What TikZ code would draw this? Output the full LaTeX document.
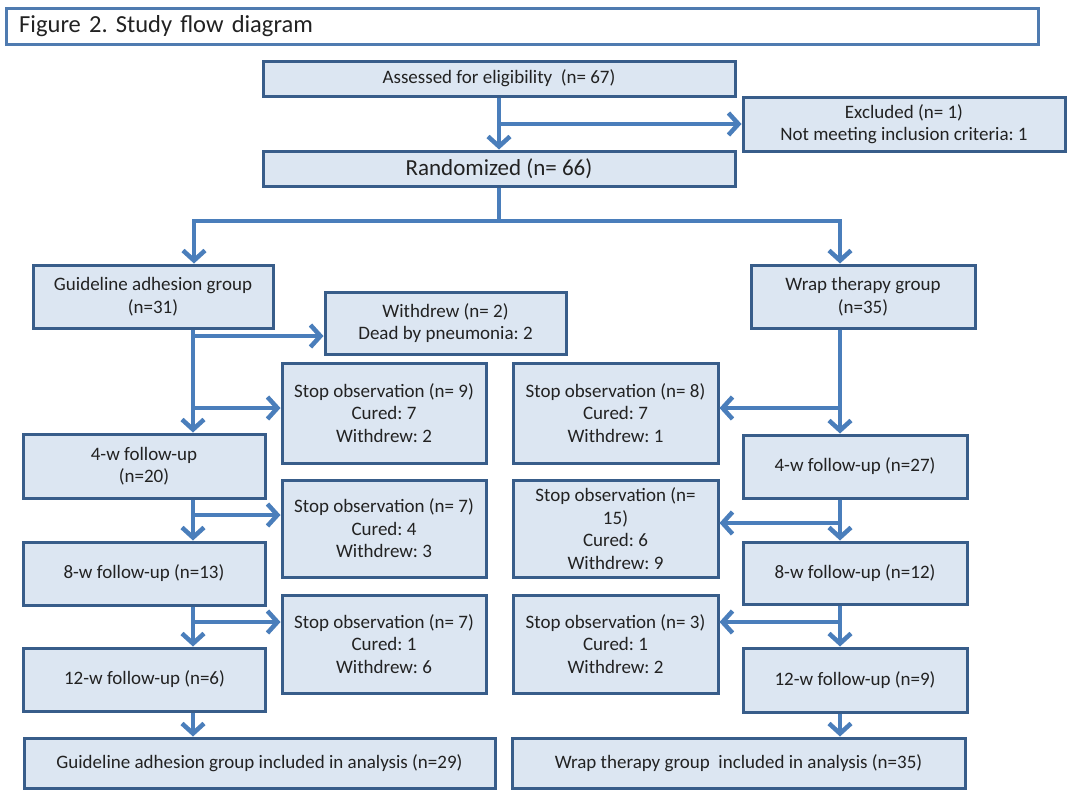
\documentclass[tikz,border=0pt]{standalone}
\usepackage{fontspec}
\setmainfont{Carlito}
\usetikzlibrary{arrows.meta,calc}
\definecolor{boxfill}{HTML}{DCE6F2}
\definecolor{boxline}{HTML}{385D8A}
\definecolor{arrcol}{HTML}{4A7EBB}
\definecolor{txt}{HTML}{222222}
\definecolor{titleline}{HTML}{4F7BB0}
\frenchspacing
\begin{document}
\begin{tikzpicture}[x=1pt,y=-1pt,
 fbox/.style={draw=boxline, fill=boxfill, line width=3pt, text=txt, align=center, inner sep=2pt, font=\fontsize{19}{22.5}\selectfont},
 conn/.style={draw=arrcol, line width=4.5pt},
 arr/.style={conn, -{Straight Barb[length=10pt,width=22pt]}},
]
\fill[white] (0,0) rectangle (1069,790);
\useasboundingbox (0,0) rectangle (1069,790);

\node[draw=titleline, line width=2.5pt, fill=white, anchor=north west, minimum height=36pt, text width=1006pt, inner xsep=13pt, inner ysep=0pt, align=left, text=txt, font=\fontsize{24.5}{29}\selectfont] (title) at (5,7) {Figure 2. Study flow diagram};

\node[fbox, minimum width=472pt, minimum height=35pt] (assess) at (499,78.5) {Assessed for eligibility~ (n= 67)};
\node[fbox, minimum width=322pt, minimum height=54pt] (excl) at (904,124) {Excluded (n= 1)\\Not meeting inclusion criteria: 1};
\node[fbox, minimum width=472pt, minimum height=35pt, font=\fontsize{23}{27}\selectfont] (rand) at (499,168.5) {Randomized (n= 66)};

\node[fbox, minimum width=240pt, minimum height=63pt] (guide) at (153,296.5) {Guideline adhesion group\\(n=31)};
\node[fbox, minimum width=224pt, minimum height=63pt] (wrap) at (863,296.5) {Wrap therapy group\\(n=35)};
\node[fbox, minimum width=241pt, minimum height=62pt] (withdrew) at (445.5,323) {Withdrew (n= 2)\\Dead by pneumonia: 2};

\node[fbox, minimum width=204pt, minimum height=100pt] (stop9) at (384,413) {Stop observation (n= 9)\\Cured: 7\\Withdrew: 2};
\node[fbox, minimum width=205pt, minimum height=100pt] (stop8) at (615.5,413) {Stop observation (n= 8)\\Cured: 7\\Withdrew: 1};

\node[fbox, minimum width=242pt, minimum height=64pt] (w4L) at (144,466) {4-w follow-up\\(n=20)};
\node[fbox, minimum width=224pt, minimum height=63pt] (w4R) at (855,466.5) {4-w follow-up (n=27)};

\node[fbox, minimum width=204pt, minimum height=97pt] (stop7a) at (384,528.5) {Stop observation (n= 7)\\Cured: 4\\Withdrew: 3};
\node[fbox, minimum width=205pt, minimum height=97pt] (stop15) at (615.5,528.5) {Stop observation (n=\\15)\\Cured: 6\\Withdrew: 9};

\node[fbox, minimum width=242pt, minimum height=63pt] (w8L) at (144,573.5) {8-w follow-up (n=13)};
\node[fbox, minimum width=224pt, minimum height=62pt] (w8R) at (855,573) {8-w follow-up (n=12)};

\node[fbox, minimum width=204pt, minimum height=98pt] (stop7b) at (384,644) {Stop observation (n= 7)\\Cured: 1\\Withdrew: 6};
\node[fbox, minimum width=205pt, minimum height=98pt] (stop3) at (615.5,644) {Stop observation (n= 3)\\Cured: 1\\Withdrew: 2};

\node[fbox, minimum width=242pt, minimum height=63pt] (w12L) at (144.5,679.5) {12-w follow-up (n=6)};
\node[fbox, minimum width=224pt, minimum height=64pt] (w12R) at (855,680) {12-w follow-up (n=9)};

\node[fbox, minimum width=471pt, minimum height=50pt] (anL) at (259.5,763) {Guideline adhesion group included in analysis (n=29)};
\node[fbox, minimum width=453pt, minimum height=50pt] (anR) at (738.5,763) {Wrap therapy group~ included in analysis (n=35)};

% top connectors
\draw[arr] (assess.south) -- (rand.north);
\draw[arr] (assess.south |- excl.west) -- (excl.west);
\coordinate (sL) at (194,221);
\coordinate (sR) at (840,221);
\draw[arr] (rand.south) |- (sL) -- (sL |- guide.north);
\draw[arr] (rand.south) |- (sR) -- (sR |- wrap.north);

% left column
\coordinate (tL) at (193,0);
\draw[arr] (guide.south -| tL) -- (w4L.north -| tL);
\coordinate (bWd) at (193,336);
\draw[arr] (bWd) -- (bWd -| withdrew.west);
\coordinate (b9) at (193,408);
\draw[arr] (b9) -- (b9 -| stop9.west);
\draw[arr] (w4L.south -| tL) -- (w8L.north -| tL);
\coordinate (b7a) at (193,515);
\draw[arr] (b7a) -- (b7a -| stop7a.west);
\draw[arr] (w8L.south -| tL) -- (w12L.north -| tL);
\coordinate (b7b) at (193,622);
\draw[arr] (b7b) -- (b7b -| stop7b.west);
\draw[arr] (w12L.south -| tL) -- (anL.north -| tL);

% right column
\coordinate (tR) at (840,0);
\draw[arr] (wrap.south -| tR) -- (w4R.north -| tR);
\coordinate (b8) at (840,408);
\draw[arr] (b8) -- (b8 -| stop8.east);
\draw[arr] (w4R.south -| tR) -- (w8R.north -| tR);
\coordinate (b15) at (840,523);
\draw[arr] (b15) -- (b15 -| stop15.east);
\draw[arr] (w8R.south -| tR) -- (w12R.north -| tR);
\coordinate (b3) at (840,622);
\draw[arr] (b3) -- (b3 -| stop3.east);
\draw[arr] (w12R.south -| tR) -- (anR.north -| tR);
\end{tikzpicture}
\end{document}
